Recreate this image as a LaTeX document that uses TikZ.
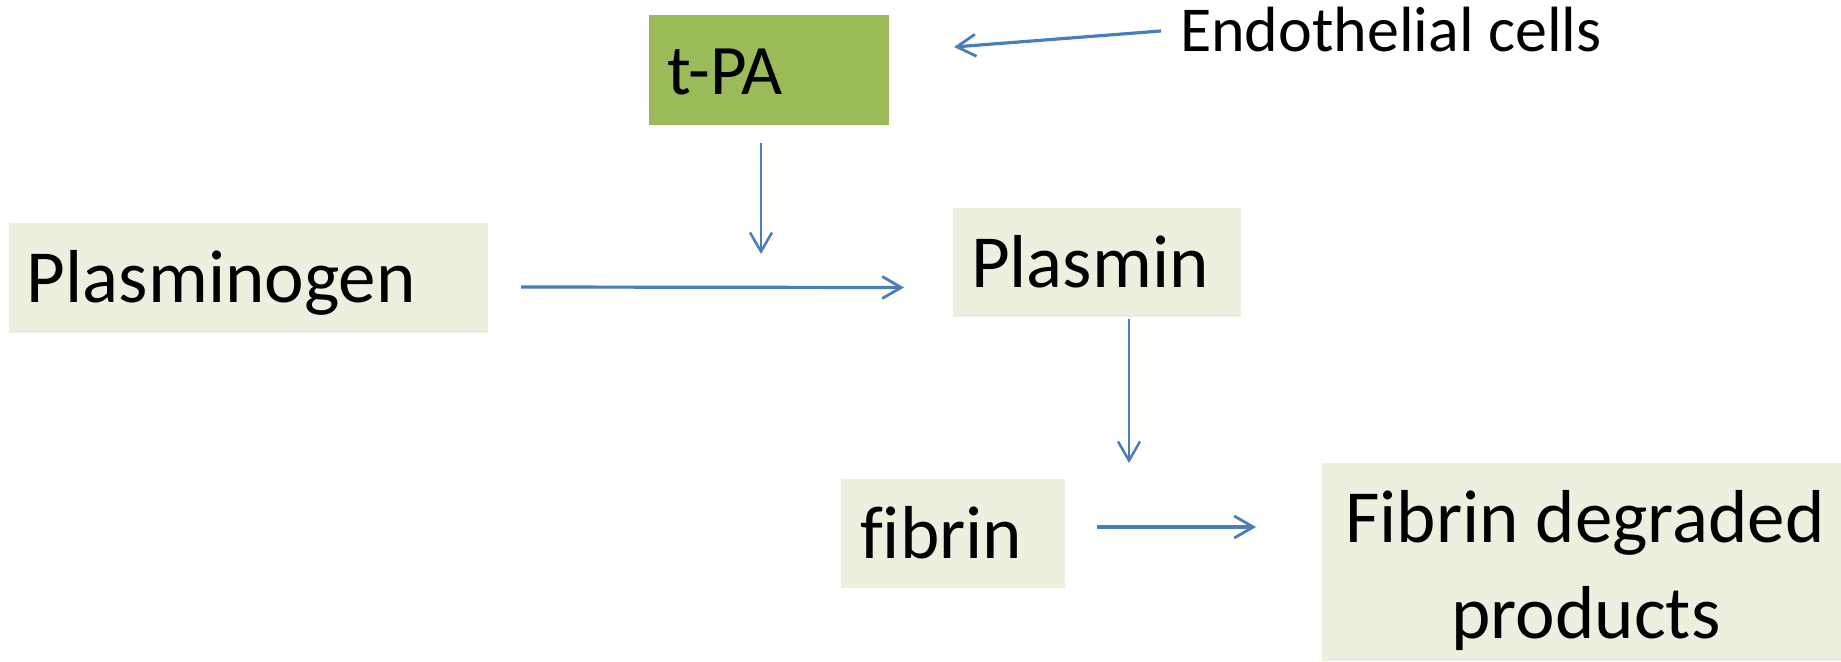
\documentclass[tikz,border=0pt]{standalone}
\usepackage{fontspec}
\setmainfont{Carlito}[Ligatures=NoCommon]
\usetikzlibrary{arrows.meta,calc}
\definecolor{boxfill}{HTML}{EBF1DE}
\definecolor{tpafill}{HTML}{9BBB59}
\definecolor{arrowblue}{HTML}{4A7EBB}
\begin{document}
\begin{tikzpicture}[x=1pt,y=-1pt,
  box/.style={fill=boxfill,draw=none,inner sep=0pt,outer sep=0pt,anchor=north west},
  lbl/.style={inner sep=0pt,outer sep=0pt,anchor=base west,font=\fontsize{75}{96}\selectfont},
  arr/.style={draw=arrowblue,line width=3.2pt,-{Straight Barb[length=19pt,width=22pt,line width=2.8pt]}},
  thinarr/.style={draw=arrowblue,line width=2.2pt,-{Straight Barb[length=19pt,width=22pt,line width=2.5pt]}},
]
\useasboundingbox (0,0) rectangle (1841,661);
% boxes
\node[box,fill=tpafill,minimum width=240pt,minimum height=110pt] (tpa) at (649,15) {};
\node[box,minimum width=479pt,minimum height=110pt] (pg) at (9,223) {};
\node[box,minimum width=288pt,minimum height=109pt] (pl) at (953,208) {};
\node[box,minimum width=224pt,minimum height=109pt] (fb) at (841,479) {};
\node[box,minimum width=519pt,minimum height=198pt] (fdp) at (1322,463) {};
% texts
\node[lbl,font=\fontsize{71}{86}\selectfont] (tpat) at (667,94) {t-PA};
\node[lbl] (pgt) at (27,302) {Plasminogen};
\node[lbl] (plt) at (971,287) {Plasmin};
\node[lbl] (fbt) at (860,558) {fibrin};
\node[lbl,anchor=base] (fdpt1) at (1585,542) {Fibrin degraded};
\node[lbl,anchor=base] (fdpt2) at (1586,638) {products};
\node[lbl,font=\fontsize{64}{77}\selectfont] (endo) at (1180,52) {Endothelial cells};
% connectors
\draw[arr] ([shift={(-19,-21)}]endo.base west) -- ([shift={(65,-23)}]tpa.east);
\draw[thinarr] ([shift={(-8,18)}]tpa.south) -- ([shift={(-8,129)}]tpa.south);
\draw[arr] ([shift={(33,9)}]pg.east) -- ([shift={(-49,25)}]pl.west);
\draw[thinarr] ([shift={(32,2)}]pl.south) -- ([shift={(32,146)}]pl.south);
\draw[arr] ([shift={(32,-6.5)}]fb.east) -- ([shift={(-66,-35)}]fdp.west);
\end{tikzpicture}
\end{document}
